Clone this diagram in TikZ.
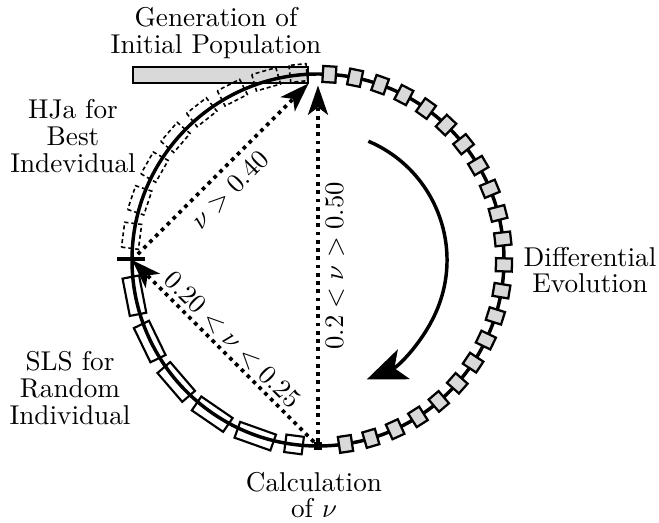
\documentclass[tikz,border=0pt]{standalone}
\usetikzlibrary{arrows.meta}
\definecolor{boxgray}{RGB}{217,217,217}
\begin{document}
\begin{tikzpicture}[x=0.375pt,y=0.375pt,
  lbl/.style={font=\fontsize{10.2}{10}\selectfont, align=center, inner sep=0pt},
  ring/.style={line width=1.3pt},
  debox/.style={draw, line width=0.85pt, fill=boxgray, minimum width=6pt, minimum height=4.9pt, inner sep=0pt},
  hjbox/.style={draw, line width=0.6pt, dash pattern=on 1.5pt off 1.1pt, minimum width=6.4pt, minimum height=9.4pt, inner sep=0pt},
  hjsmall/.style={hjbox, minimum height=6.4pt},
  slsbox/.style={draw, line width=0.8pt, minimum width=6.3pt, minimum height=14.25pt, inner sep=0pt},
  slssmall/.style={slsbox, minimum width=6.6pt, minimum height=6.6pt},
  dotarrow/.style={line width=1.4pt, dash pattern=on 1.4pt off 1.7pt, -{Stealth[length=11pt,width=7.5pt,inset=2.8pt]}},
  bignode/.style={draw, fill=black, minimum size=2.6pt, inner sep=0pt}]
\useasboundingbox (-318,-263) rectangle (341,260);
% initial population bar
\node[draw, line width=0.8pt, fill=boxgray, minimum width=65.6pt, minimum height=6pt, inner sep=0pt] (init) at (-97.5,185) {};
% main circle
\draw[ring] (0,0) circle[radius=186];
\coordinate (T) at (90:186);
\coordinate (L) at (180:186);
\node[bignode] (B) at (270:186) {};
% left tick
\coordinate (tickA) at (-201,1);
\coordinate (tickB) at (-173,1);
\draw[ring] (tickA) -- (tickB);
% HJa dashed boxes
\node[hjsmall, rotate=96] (hj0) at (96:188) {};
\foreach \k in {1,...,7}{
  \pgfmathsetmacro{\a}{106+11.1*(\k-1)}
  \node[hjbox, rotate=\a] (hj\k) at (\a:188) {};
}
% SLS boxes
\foreach \k in {1,...,5}{
  \pgfmathsetmacro{\a}{191+14.85*(\k-1)}
  \node[slsbox, rotate=\a] (sls\k) at (\a:187) {};
}
\node[slssmall, rotate=262.6] (sls6) at (262.6:186) {};
% DE boxes
\foreach \k in {0,...,21}{
  \pgfmathsetmacro{\a}{86.5-8*\k}
  \node[debox, rotate=\a] (de\k) at (\a:186) {};
}
% inner rotation arrow
\coordinate (arcS) at (67:129);
\draw[ring, -{Stealth[length=15pt,width=12pt,inset=3.8pt]}] (arcS) arc[start angle=67, end angle=-67.8, radius=129];
% dotted arrows
\draw[dotarrow, shorten >=4.3pt] (B) -- (T);
\draw[dotarrow, shorten >=5pt] (L) -- (T);
\draw[dotarrow] (B) -- (L);
% arrow labels
\node[lbl, rotate=90] (l1) at (17,-6) {$0.2<\nu>0.50$};
\node[lbl, rotate=45] (l2) at (-88,70) {$\nu>0.40$};
\node[lbl, rotate=-45] (l3) at (-86,-80) {$0.20<\nu<0.25$};
% text labels
\node[lbl] (gen) at (-102,227) {Generation of\\Initial Population};
\node[lbl] (hja) at (-245,124) {HJa for\\Best\\Indevidual};
\node[lbl] (sls) at (-248,-128) {SLS for\\Random\\Individual};
\node[lbl] (de) at (272,-10) {Differential\\Evolution};
\node[lbl] (calc) at (-4,-235) {Calculation\\of $\nu$};
\end{tikzpicture}
\end{document}
